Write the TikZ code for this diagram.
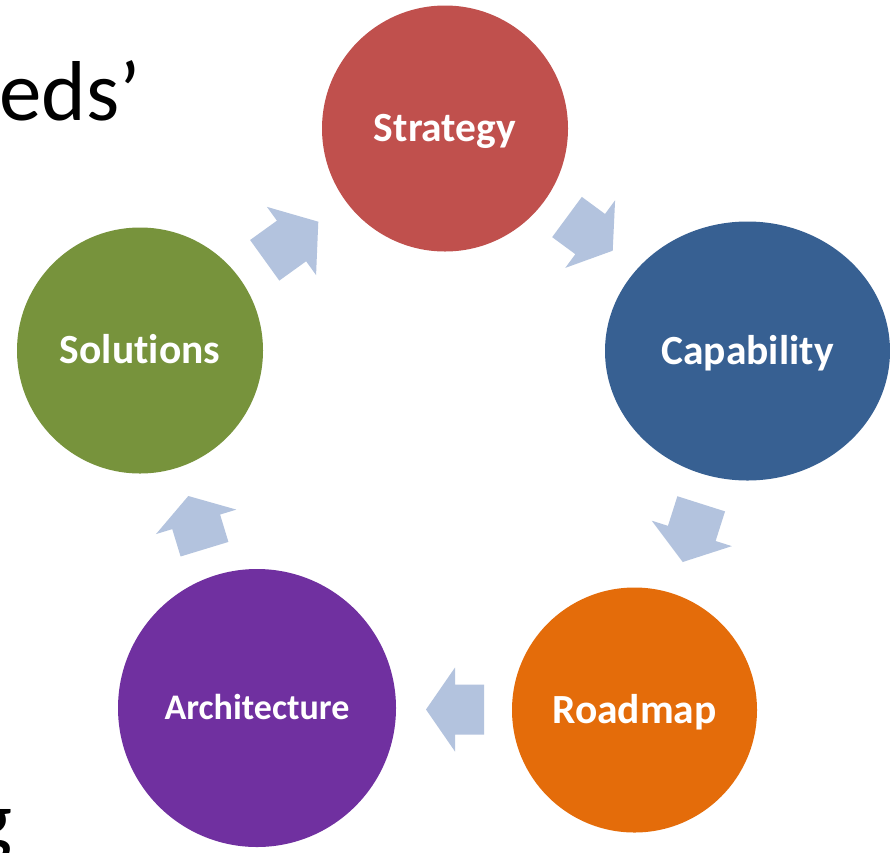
\documentclass[tikz,border=0pt]{standalone}
\usepackage{fontspec}
\setmainfont[Ligatures=NoCommon]{Carlito}
\usetikzlibrary{calc,shapes.geometric}
\definecolor{cstrat}{HTML}{C0504D}
\definecolor{ccap}{HTML}{376092}
\definecolor{croad}{HTML}{E46C0A}
\definecolor{carch}{HTML}{7030A0}
\definecolor{csol}{HTML}{77933C}
\definecolor{carrow}{HTML}{B3C3DE}
\newcommand\blockarr[3]{%
  \coordinate (hb) at ($(#2)!#3!(#1)$);
  \fill[arrowfill] ($(#1)!25pt!90:(#2)$) -- ($(hb)!25pt!90:(#2)$) -- ($(hb)!42pt!90:(#2)$) -- (#2)
    -- ($(hb)!42pt!-90:(#2)$) -- ($(hb)!25pt!-90:(#2)$) -- ($(#1)!25pt!-90:(#2)$) -- cycle;
}
\begin{document}
\begin{tikzpicture}[x=1pt,y=-1pt,
  stage/.style={circle,inner sep=0pt,minimum size=246pt,text=white,
    text height=26pt,text depth=0pt,
    font=\fontsize{41.5}{50}\selectfont\bfseries},
  arrowfill/.style={fill=carrow},
  slidetext/.style={anchor=base west,inner sep=0pt,text=black,
    font=\fontsize{85}{100}\selectfont}]
\useasboundingbox (0,0) rectangle (890,852);
\clip (0,0) rectangle (890,852);
\fill[white] (0,0) rectangle (890,852);
% background slide text fragments
\node[slidetext] (frag1) at (-1,120) {eds’};
\node[slidetext] (frag2) at (-28,848) {g};
% stages
\node[stage,fill=cstrat] (strategy) at (445,128.5) {Strategy};
\node[stage,ellipse,fill=ccap,minimum width=285pt,minimum height=259pt] (capability) at (747.5,351) {Capability};
\node[stage,fill=croad,minimum size=245pt] (roadmap) at (634.5,710) {Roadmap};
\node[stage,fill=carch,minimum size=278pt,text height=22.5pt,font=\fontsize{36}{44}\selectfont\bfseries] (architecture) at (257,708) {Architecture};
\node[stage,fill=csol] (solutions) at (140,350.5) {Solutions};
% arrow end points
\coordinate (a1t) at (264.7,260.3); \coordinate (a1h) at (318.3,221.7);
\coordinate (a2t) at (567,217);     \coordinate (a2h) at (612.7,250.7);
\coordinate (a3t) at (701.2,503.8); \coordinate (a3h) at (682.7,562);
\coordinate (a4t) at (484,709.5);   \coordinate (a4h) at (426,709.5);
\coordinate (a5t) at (204.5,549.2); \coordinate (a5h) at (188.3,496);
\blockarr{a1t}{a1h}{33pt}
\blockarr{a2t}{a2h}{28pt}
\blockarr{a3t}{a3h}{30pt}
\blockarr{a4t}{a4h}{29pt}
\blockarr{a5t}{a5h}{27pt}
\end{tikzpicture}
\end{document}
